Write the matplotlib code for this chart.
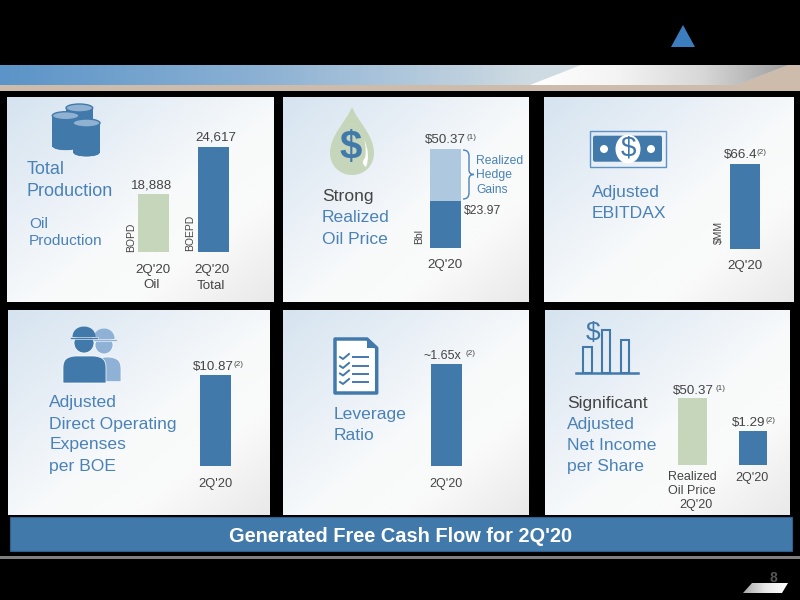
#!/usr/bin/env python3

import numpy as np
import matplotlib
matplotlib.use("Agg")
import matplotlib.pyplot as plt
from matplotlib.colors import LinearSegmentedColormap
from matplotlib.patches import Ellipse, Rectangle, Polygon, Circle, FancyBboxPatch, PathPatch
from matplotlib.path import Path

plt.rcParams['font.family'] = ['Liberation Sans', 'DejaVu Sans']

BLUE = '#4279ab'
LIGHT_BLUE = '#aec8e0'
BACK_BLUE = '#8fb1d6'
GREEN = '#c6d6bb'
TEXT_BLUE = '#4a82b8'
GRAY = '#444444'

# chart values
production_labels = ['Oil', 'Total']
production_values = [18888, 24617]
production_floor = 11900
oil_price_base = 23.97
oil_price_total = 50.37
ebitdax_value = 66.4
opex_value = 10.87
leverage_value = 1.65
net_income_values = [50.37, 1.29]
net_income_floor = -49.8

fig = plt.figure(figsize=(8, 6), dpi=100, facecolor='black')
ax = fig.add_axes([0, 0, 1, 1])
ax.set_facecolor('black')
ax.axis('off')


def text(x, y, s, size=9.6, color=GRAY, ha='left', **kw):
    shift = 2 if size >= 11 else 1
    ax.text(x, y + shift, s, fontsize=size, color=color, ha=ha, va='center', **kw)


def value_label(x, y, s, sup, sup_x, size=9.6):
    text(x, y, s, size)
    ax.text(sup_x, y - 1.5, sup, fontsize=5.8, color=GRAY, ha='left', va='center')


def panel(x0, y0, x1, y1):
    yy, xx = np.mgrid[0:1:80j, 0:1:80j]
    g = (xx + yy) / 2
    cm = LinearSegmentedColormap.from_list('p', [(0, '#d6e4f0'), (0.3, '#e8eff6'), (0.55, '#f8fafb'),
                                                 (0.75, '#fafafa'), (1, '#e9e9e9')])
    ax.imshow(g, extent=(x0, x1, y1, y0), cmap=cm, vmin=0, vmax=1, aspect='auto', zorder=1)


def bar_axes(x0, y0, x1, y1, ymin, ymax, xlim=(-0.5, 0.5)):
    a = fig.add_axes([x0 / 800, 1 - y1 / 600, (x1 - x0) / 800, (y1 - y0) / 600])
    a.axis('off')
    a.set_xlim(*xlim)
    a.set_ylim(ymin, ymax)
    return a


def barrel(x0, x1, top, bottom, z):
    cx = (x0 + x1) / 2
    w = x1 - x0
    ax.add_patch(Ellipse((cx, bottom), w, 8, fc=BLUE, ec='white', lw=0.5, zorder=z))
    ax.add_patch(Rectangle((x0, top), w, bottom - top, fc=BLUE, ec='none', zorder=z))
    ax.add_patch(Ellipse((cx, top), w, 8, fc='#8fb1d2', ec=BLUE, lw=1, zorder=z))


def worker(cx, brim_y, r, body_x0, body_x1, body_top, body_bottom, color, z):
    body = Path([(body_x0, body_bottom), (body_x0, body_top + 11), (body_x0, body_top), (body_x0 + 13, body_top),
                 (body_x1 - 13, body_top), (body_x1, body_top), (body_x1, body_top + 11), (body_x1, body_bottom),
                 (body_x0, body_bottom)],
                [Path.MOVETO, Path.LINETO, Path.CURVE3, Path.CURVE3, Path.LINETO, Path.CURVE3, Path.CURVE3,
                 Path.LINETO, Path.CLOSEPOLY])
    ax.add_patch(PathPatch(body, fc=color, ec='white', lw=0.5, zorder=z))
    ax.add_patch(Circle((cx, brim_y + 6), r, fc=color, ec='white', lw=0.5, zorder=z))
    dome = Path([(cx - r - 1.5, brim_y), (cx - r - 1.5, brim_y - 14), (cx + r + 1.5, brim_y - 14), (cx + r + 1.5, brim_y),
                 (cx - r - 1.5, brim_y)],
                [Path.MOVETO, Path.CURVE4, Path.CURVE4, Path.CURVE4, Path.CLOSEPOLY])
    ax.add_patch(PathPatch(dome, fc=color, ec='none', zorder=z))
    ax.add_patch(Rectangle((cx - r - 4, brim_y - 0.5), 2 * r + 8, 2.2, fc=color, ec='white', lw=0.4, zorder=z))


# header band
band = np.linspace(0, 1, 400).reshape(1, -1)
band_cm = LinearSegmentedColormap.from_list('b', ['#5b94c8', '#8db2d4', '#cfdbe2', '#d8dfe2'])
ax.imshow(band, extent=(0, 800, 85, 65), cmap=band_cm, aspect='auto', zorder=1)
ax.add_patch(Rectangle((0, 85), 800, 5.7, fc='#cdbcab', ec='none', zorder=2))
ax.add_patch(Polygon([(737, 85), (788, 65), (800, 65), (800, 85)], fc='#cdbcab', ec='none', zorder=2))
wedge = ax.imshow(np.linspace(0, 1, 200).reshape(1, -1), extent=(530, 788, 85, 65),
                  cmap=LinearSegmentedColormap.from_list('w', ['#ffffff', '#f4f4f4', '#d8d8d8', '#a0a0a0']),
                  aspect='auto', zorder=3)
wedge.set_clip_path(Polygon([(530, 85), (581, 65), (788, 65), (737, 85)], transform=ax.transData))
ax.add_patch(Polygon([(671, 47), (683, 25), (695, 47)], fc='#3c7dbf', ec='none', zorder=2))

# panels
panel(7, 97, 274, 302)
panel(283, 97, 529, 302)
panel(544, 97, 794, 302)
panel(8, 310, 270, 515)
panel(283, 310, 529, 515)
panel(545, 310, 790, 515)

# production panel
a = bar_axes(138.3, 146.7, 228.7, 252.3, production_floor, production_values[1], xlim=(-0.257, 1.257))
a.bar([0, 1], production_values, width=0.514, color=[GREEN, BLUE])
barrel(66, 92.7, 108, 135, 3)
barrel(52.3, 79, 115.7, 146.7, 4)
barrel(73, 100, 123, 153, 5)
text(27, 168, 'Total', 13, TEXT_BLUE)
text(27, 190, 'Production', 13, TEXT_BLUE)
text(29, 222, 'Oil', 11.1, TEXT_BLUE)
text(29, 239, 'Production', 11.1, TEXT_BLUE)
text(152, 185, f'{production_values[0]:,}', ha='center')
text(215.5, 137, f'{production_values[1]:,}', ha='center')
text(131, 236, 'BOPD', 7.5, ha='center', rotation=90)
text(190, 232, 'BOEPD', 7.5, ha='center', rotation=90)
text(153, 269, "2Q'20", ha='center')
text(152, 284, production_labels[0], ha='center')
text(211.7, 269, "2Q'20", ha='center')
text(211, 285, production_labels[1], ha='center')

# oil price panel
a = bar_axes(430.3, 149.3, 460.7, 247.7, 0, oil_price_total)
a.bar([0], [oil_price_base], width=1, color=BLUE)
a.bar([0], [oil_price_total - oil_price_base], bottom=[oil_price_base], width=1, color=LIGHT_BLUE)
drop = Path([(352, 107), (346, 122), (330, 135), (330, 153), (330, 166), (340, 175), (352, 175),
             (364, 175), (374, 166), (374, 153), (374, 135), (358, 122), (352, 107)],
            [Path.MOVETO] + [Path.CURVE4] * 12)
ax.add_patch(PathPatch(drop, fc=GREEN, ec='none', zorder=3))
crescent = Path([(364, 139), (371, 155), (366, 167), (360, 163), (365, 158), (367, 150), (364, 139)],
                [Path.MOVETO] + [Path.CURVE3] * 6)
ax.add_patch(PathPatch(crescent, fc='white', ec='none', zorder=4))
text(351, 146, '$', 29, BLUE, ha='center', fontweight='bold', zorder=5)
text(321.7, 194, 'Strong', 12.6)
text(321.7, 216, 'Realized', 12.6, TEXT_BLUE)
text(321.7, 237, 'Oil Price', 12.6, TEXT_BLUE)
value_label(425, 139, f'${oil_price_total}', '(1)', 466.5)
brace = Path([(463, 150), (469, 150), (469, 156), (469, 170), (469, 174.5), (474, 174.5),
              (469, 174.5), (469, 179), (469, 193), (469, 199), (463, 199)],
             [Path.MOVETO, Path.CURVE3, Path.CURVE3, Path.LINETO, Path.CURVE3, Path.CURVE3,
              Path.CURVE3, Path.CURVE3, Path.LINETO, Path.CURVE3, Path.CURVE3])
ax.add_patch(PathPatch(brace, fc='none', ec=TEXT_BLUE, lw=1, zorder=3))
text(476, 160, 'Realized', 8.7, TEXT_BLUE)
text(476, 174, 'Hedge', 8.7, TEXT_BLUE)
text(476, 189, 'Gains', 8.7, TEXT_BLUE)
text(463.7, 210, f'${oil_price_base}', 8.7)
text(419, 236, 'Bbl', 7.5, ha='center', rotation=90)
text(445, 264, "2Q'20", ha='center')

# ebitdax panel
a = bar_axes(729.7, 163.7, 760.3, 249, 0, ebitdax_value)
a.bar([0], [ebitdax_value], width=1, color=BLUE)
ax.add_patch(Rectangle((589.7, 130.7), 76.3, 36, fc='none', ec='#5d92c4', lw=1, zorder=3))
ax.add_patch(FancyBboxPatch((594, 136.7), 67, 24, boxstyle='round,pad=1,rounding_size=2',
                            fc=BLUE, ec='none', zorder=3))
ax.add_patch(Ellipse((628, 149), 25, 29, fc='white', ec='none', zorder=4))
ax.add_patch(Circle((604, 149), 4, fc='white', ec='none', zorder=4))
ax.add_patch(Circle((651, 149), 4, fc='white', ec='none', zorder=4))
text(628, 147, '$', 20, BLUE, ha='center', zorder=5)
text(591.7, 191, 'Adjusted', 12.6, TEXT_BLUE)
text(591.7, 211, 'EBITDAX', 12.6, TEXT_BLUE)
value_label(723.7, 154, f'${ebitdax_value}', '(2)', 756.5)
text(719, 231, '$MM', 7.5, ha='center', rotation=90)
text(744.7, 265, "2Q'20", ha='center')

# operating expense panel
a = bar_axes(200, 374.7, 231.3, 466.3, 0, opex_value)
a.bar([0], [opex_value], width=1, color=BLUE)
worker(104, 339, 9, 94, 121, 357, 381.7, BACK_BLUE, 3)
worker(84, 337, 10, 63, 106, 356, 383, BLUE, 4)
text(49.3, 400, 'Adjusted', 12.6, TEXT_BLUE)
text(49.3, 422, 'Direct Operating', 12.6, TEXT_BLUE)
text(49.3, 443, 'Expenses', 12.6, TEXT_BLUE)
text(49.3, 464, 'per BOE', 12.6, TEXT_BLUE)
value_label(193, 366, f'${opex_value}', '(2)', 234)
text(215.7, 482.7, "2Q'20", 9.3, ha='center')

# leverage panel
a = bar_axes(431, 364.3, 462, 466.3, 0, leverage_value)
a.bar([0], [leverage_value], width=1, color=BLUE)
ax.add_patch(Polygon([(335, 339), (367, 339), (376.7, 348), (376.7, 393), (335, 393)],
                     fc='white', ec=BLUE, lw=2.5, joinstyle='round', zorder=3))
ax.add_patch(Polygon([(367, 339), (376.7, 348), (367, 348)], fc=BLUE, ec='none', zorder=4))
for yc in [357, 366, 373.5, 382]:
    ax.plot([340, 343, 349], [yc, yc + 2, yc - 3], color=BLUE, lw=1.4, zorder=4)
    ax.plot([353, 367.5], [yc, yc], color=BLUE, lw=1.4, zorder=4)
text(334, 412, 'Leverage', 12.6, TEXT_BLUE)
text(334, 433, 'Ratio', 12.6, TEXT_BLUE)
value_label(424, 355, f'~{leverage_value}x', '(2)', 465, size=9)
text(446.3, 482.7, "2Q'20", 9, ha='center')

# net income panel
a = bar_axes(678.3, 398, 767.3, 464.7, net_income_floor, net_income_values[0], xlim=(-0.237, 1.237))
a.bar([0, 1], [v - net_income_floor for v in net_income_values], bottom=net_income_floor,
      width=0.474, color=[GREEN, BLUE])
for bx0, bx1, top in [(583.3, 591.7, 347.3), (602.3, 610.3, 330.3), (621, 629.3, 340.3)]:
    ax.add_patch(Rectangle((bx0, top), bx1 - bx0, 373 - top, fc='none', ec=BLUE, lw=1.5, zorder=3))
ax.plot([575.7, 638.3], [373, 373], color=BLUE, lw=1.8, zorder=3)
text(592.7, 331, '$', 19, BLUE, ha='center', zorder=4)
text(567.3, 401.7, 'Significant', 12.6)
text(567.3, 423, 'Adjusted', 12.6, TEXT_BLUE)
text(567.3, 444, 'Net Income', 12.6, TEXT_BLUE)
text(567.3, 465, 'per Share', 12.6, TEXT_BLUE)
value_label(673, 389.7, f'${net_income_values[0]}', '(1)', 715)
value_label(732.3, 421.7, f'${net_income_values[1]}', '(2)', 765)
text(692, 475.7, 'Realized', 9, ha='center')
text(691.7, 490, 'Oil Price', 9, ha='center')
text(695.7, 504, "2Q'20", 9, ha='center')
text(751.7, 477, "2Q'20", 9, ha='center')

# footer
ax.add_patch(Rectangle((10, 517), 782, 33.7, fc=BLUE, ec='#2f5f8c', lw=0.8, zorder=2))
text(401, 534, "Generated Free Cash Flow for 2Q'20", 14.4, 'white', ha='center', fontweight='bold', zorder=3)
ax.add_patch(Rectangle((0, 556), 800, 3, fc='#808080', ec='none', zorder=2))
tail = ax.imshow(np.linspace(0, 1, 100).reshape(1, -1), extent=(743, 788, 593, 583),
                 cmap=LinearSegmentedColormap.from_list('t', ['#a8a8a8', '#e8e8e8', '#ffffff']),
                 aspect='auto', zorder=3)
tail.set_clip_path(Polygon([(743, 593), (752, 583), (788, 583), (782, 593)], transform=ax.transData))
text(773.5, 576.5, '8', 10, '#555555', ha='center', fontweight='bold', zorder=4)

ax.set_xlim(0, 800)
ax.set_ylim(600, 0)

fig.savefig('out.png', dpi=100, facecolor='black')
